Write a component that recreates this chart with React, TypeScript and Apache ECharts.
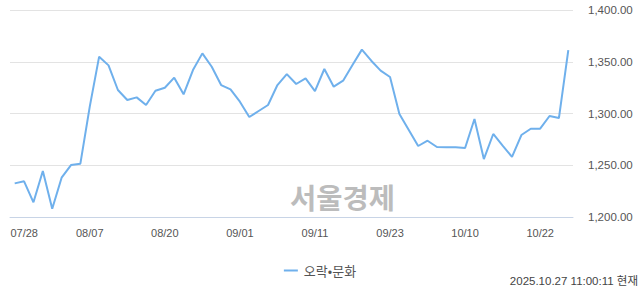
import React, { useEffect, useRef } from "react";
import * as echarts from "echarts";

const categories = [
  "07/28", "07/29", "07/30", "07/31", "08/01", "08/04", "08/05", "08/06",
  "08/07", "08/08", "08/11", "08/12", "08/13", "08/14", "08/18", "08/19",
  "08/20", "08/21", "08/22", "08/25", "08/26", "08/27", "08/28", "08/29",
  "09/01", "09/02", "09/03", "09/04", "09/05", "09/08", "09/09", "09/10",
  "09/11", "09/12", "09/15", "09/16", "09/17", "09/18", "09/19", "09/22",
  "09/23", "09/24", "09/25", "09/26", "09/29", "09/30", "10/01", "10/02",
  "10/10", "10/13", "10/14", "10/15", "10/16", "10/17", "10/20", "10/21",
  "10/22", "10/23", "10/24", "10/27",
];

const values = [
  1232.5, 1234.5, 1214.2, 1244.4, 1208.0, 1238.0, 1250.2, 1251.5,
  1306.6, 1354.9, 1346.5, 1322.7, 1313.0, 1315.6, 1308.2, 1322.0,
  1324.9, 1334.6, 1318.5, 1342.0, 1358.1, 1345.2, 1327.5, 1323.3,
  1311.4, 1296.6, 1302.4, 1308.2, 1327.5, 1338.1, 1328.5, 1334.0,
  1321.7, 1343.0, 1325.9, 1331.7, 1346.9, 1361.7, 1351.0, 1341.4,
  1335.3, 1299.5, 1284.0, 1268.6, 1273.7, 1267.6, 1267.3, 1267.3,
  1266.7, 1294.7, 1256.0, 1280.2, 1268.9, 1258.0, 1279.2, 1285.3,
  1285.3, 1297.6, 1295.6, 1361.3,
];

const seriesName = "오락•문화";
const watermark = "서울경제";
const timestamp = "2025.10.27 11:00:11 현재";
const yMin = 1200;
const yMax = 1400;
const yStep = 50;

export default function App() {
  const ref = useRef<HTMLDivElement>(null);

  useEffect(() => {
    if (!ref.current) return;
    const chart = echarts.init(ref.current, null, { renderer: "svg" });
    chart.setOption({
      animation: false,
      backgroundColor: "#ffffff",
      grid: { left: 10, right: 67, top: 10, bottom: 77, containLabel: false },
      legend: {
        data: [seriesName],
        left: "center",
        top: 259,
        icon: "rect",
        itemWidth: 14,
        itemHeight: 2,
        itemGap: 10,
        textStyle: {
          fontFamily: "'Noto Sans CJK KR', sans-serif",
          fontSize: 13,
          color: "#555555",
          padding: [0, 0, 0, 1],
        },
      },
      xAxis: {
        type: "category",
        data: categories,
        boundaryGap: true,
        axisLine: { lineStyle: { color: "#c8d4e6", width: 1 } },
        axisTick: {
          alignWithLabel: true,
          interval: 7,
          length: 8,
          lineStyle: { color: "#c8d4e6" },
        },
        axisLabel: {
          interval: 7,
          margin: 10,
          fontFamily: "'Liberation Sans', Arial, sans-serif",
          fontSize: 11,
          color: "#555555",
          formatter: (v: string, i: number) => (i === 0 ? `{first|${v}}` : v),
          rich: {
            first: {
              fontFamily: "'Liberation Sans', Arial, sans-serif",
              fontSize: 11,
              color: "#555555",
              padding: [0, 0, 0, 19],
            },
          },
        },
        splitLine: { show: false },
      },
      yAxis: {
        type: "value",
        position: "right",
        min: yMin,
        max: yMax,
        interval: yStep,
        axisLine: { show: false },
        axisTick: { show: false },
        axisLabel: {
          margin: 15,
          fontFamily: "'Liberation Sans', Arial, sans-serif",
          fontSize: 11.5,
          color: "#555555",
          formatter: (v: number) =>
            v.toLocaleString("en-US", { minimumFractionDigits: 2, maximumFractionDigits: 2 }),
        },
        splitLine: { lineStyle: { color: "#e3e3e3", width: 1 } },
      },
      graphic: [
        {
          type: "text",
          left: 290,
          top: 182,
          z: 0,
          style: {
            text: watermark,
            fontFamily: "'Noto Sans CJK KR', sans-serif",
            fontWeight: "bold",
            fontSize: 28.5,
            fill: "#bcbcbc",
          },
        },
        {
          type: "text",
          right: 2,
          top: 275,
          style: {
            text: timestamp,
            fontFamily: "'Liberation Sans', 'Noto Sans CJK KR', sans-serif",
            fontSize: 11.5,
            fill: "#444444",
          },
        },
      ],
      series: [
        {
          name: seriesName,
          type: "line",
          data: values,
          showSymbol: false,
          symbol: "none",
          z: 3,
          lineStyle: { color: "#6fb0ec", width: 2 },
          itemStyle: { color: "#6fb0ec" },
        },
      ],
    });
    return () => chart.dispose();
  }, []);

  return (
    <div
      ref={ref}
      style={{ position: "fixed", left: 0, top: 0, width: 640, height: 294 }}
    />
  );
}
